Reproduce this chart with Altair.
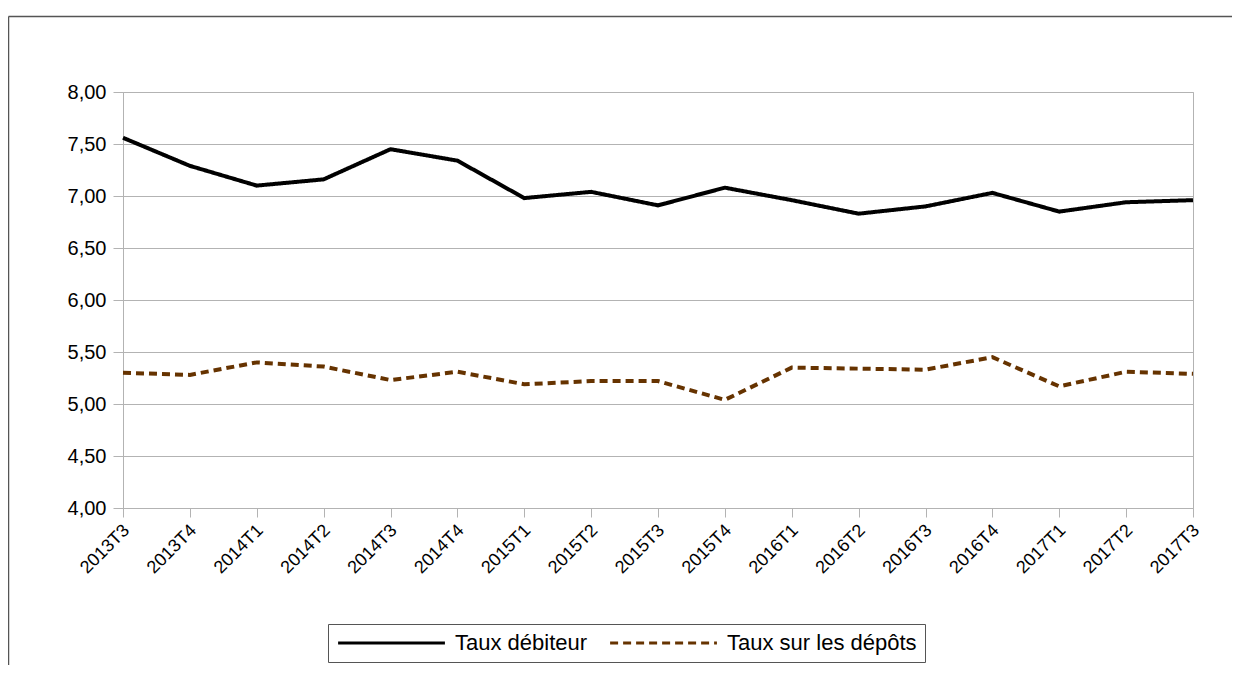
import altair as alt
import pandas as pd

quarters = ["2013T3", "2013T4", "2014T1", "2014T2", "2014T3", "2014T4",
            "2015T1", "2015T2", "2015T3", "2015T4", "2016T1", "2016T2",
            "2016T3", "2016T4", "2017T1", "2017T2", "2017T3"]
taux_debiteur = [7.56, 7.29, 7.10, 7.16, 7.45, 7.34, 6.98, 7.04, 6.91, 7.08,
                 6.96, 6.83, 6.90, 7.03, 6.85, 6.94, 6.96]
taux_depots = [5.30, 5.28, 5.40, 5.36, 5.23, 5.31, 5.19, 5.22, 5.22, 5.04,
               5.35, 5.34, 5.33, 5.45, 5.17, 5.31, 5.29]
series_names = ["Taux débiteur", "Taux sur les dépôts"]
series_colors = ["#000000", "#663300"]
y_ticks = [4.0, 4.5, 5.0, 5.5, 6.0, 6.5, 7.0, 7.5, 8.0]

rows = []
for q, a, b in zip(quarters, taux_debiteur, taux_depots):
    rows.append({"trimestre": q, "serie": series_names[0], "valeur": a})
    rows.append({"trimestre": q, "serie": series_names[1], "valeur": b})
df = pd.DataFrame(rows)

FONT = "Liberation Sans"
GRAY = "#b3b3b3"

lines = alt.Chart(df).mark_line(strokeWidth=4).encode(
    x=alt.X("trimestre:N", sort=quarters, title=None,
            scale=alt.Scale(type="point", padding=0),
            axis=alt.Axis(labelAngle=-45, tickSize=9, tickColor=GRAY,
                          domainColor=GRAY, grid=False, labelFontSize=18,
                          labelColor="#000000", labelFont=FONT,
                          labelPadding=4, labelOffset=-3)),
    y=alt.Y("valeur:Q", title=None,
            scale=alt.Scale(domain=[4, 8], nice=False, zero=False),
            axis=alt.Axis(values=y_ticks, tickSize=10, tickColor=GRAY,
                          domainColor=GRAY, gridColor=GRAY, grid=True,
                          labelFontSize=20, labelColor="#000000",
                          labelFont=FONT, labelPadding=7,
                          labelExpr="replace(format(datum.value, '.2f'), '.', ',')")),
    color=alt.Color("serie:N", title=None,
                    scale=alt.Scale(domain=series_names, range=series_colors),
                    legend=alt.Legend(orient="none", legendX=205, legendY=532,
                                      direction="horizontal",
                                      strokeColor="#555555", padding=8,
                                      symbolType="M-1,0H11", symbolSize=317,
                                      symbolStrokeWidth=3, labelFontSize=22,
                                      labelFont=FONT, labelColor="#000000",
                                      labelOffset=97, columnPadding=16,
                                      labelLimit=400,
                                      fillColor="#ffffff")),
    strokeDash=alt.StrokeDash("serie:N", title=None,
                              scale=alt.Scale(domain=series_names,
                                              range=[[1, 0], [8, 5]])),
)

frame_top = alt.Chart(alt.Data(values=[{}])).mark_rule(
    color="#555555", strokeWidth=1.5).encode(
    x=alt.value(-114.5), x2=alt.value(1109), y=alt.value(-75.5))
frame_left = alt.Chart(alt.Data(values=[{}])).mark_rule(
    color="#555555", strokeWidth=1.5).encode(
    x=alt.value(-114.5), y=alt.value(-75.5), y2=alt.value(573))

chart = alt.layer(frame_top, frame_left, lines).properties(
    width=1070, height=416,
    padding={"left": 115, "top": 84, "right": 39, "bottom": 157},
    autosize=alt.AutoSizeParams(type="none"),
).configure_view(stroke=GRAY)

chart.save("out.html", embed_options={"renderer": "svg", "actions": False})
